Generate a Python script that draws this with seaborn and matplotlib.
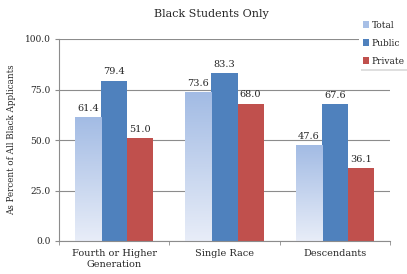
import matplotlib
matplotlib.use("Agg")
import matplotlib.pyplot as plt
import seaborn as sns
import pandas as pd
import numpy as np

categories = ["Fourth or Higher\nGeneration", "Single Race", "Descendants"]
series = ["Total", "Public", "Private"]
total_vals = [61.4, 73.6, 47.6]
public_vals = [79.4, 83.3, 67.6]
private_vals = [51.0, 68.0, 36.1]
yticks = [0.0, 25.0, 50.0, 75.0, 100.0]

rows = []
for s, vals in zip(series, [total_vals, public_vals, private_vals]):
    for c, v in zip(categories, vals):
        rows.append({"cat": c, "series": s, "value": v})
df = pd.DataFrame(rows)

sns.set_style("white")
plt.rcParams["font.family"] = ["DejaVu Serif"]

W, H = 407, 274
fig = plt.figure(figsize=(W / 100, H / 100), dpi=100)
ax = fig.add_axes([59 / W, 1 - 241 / H, (390 - 59) / W, (241 - 39) / H])

palette = {"Total": "#a7bfe6", "Public": "#4f81bd", "Private": "#c0504d"}
sns.barplot(data=df, x="cat", y="value", hue="series", hue_order=series,
            order=categories, palette=palette, width=0.71, ax=ax,
            saturation=1, edgecolor="none", linewidth=0)

ax.set_ylim(0, 100)
ax.set_xlim(-0.5, 2.5)
ax.set_yticks(yticks)
ax.set_yticklabels([f"{t:.1f}" for t in yticks], fontsize=6.5)
ax.yaxis.grid(True, color="#8c8c8c", linewidth=0.8)
ax.set_axisbelow(True)
ax.set_xlabel("")
ax.set_ylabel("As Percent of All Black Applicants", fontsize=6.3, labelpad=6)
ax.tick_params(axis="x", labelsize=7, length=0, pad=6)
ax.tick_params(axis="y", length=3, color="#8c8c8c", pad=3, left=True)
for s in ["top", "right"]:
    ax.spines[s].set_visible(False)
for s in ["left", "bottom"]:
    ax.spines[s].set_color("#8c8c8c")
    ax.spines[s].set_linewidth(0.8)

# category boundary ticks
ax.set_xticks([-0.5, 0.5, 1.5, 2.5], minor=True)
ax.tick_params(axis="x", which="minor", length=3, color="#8c8c8c", bottom=True, direction="out")

# gradient for Total bars
cmap = matplotlib.colors.LinearSegmentedColormap.from_list("g", ["#e8edf8", "#a2bbe4"])
grad = np.linspace(0, 1, 256).reshape(-1, 1)
for cont, s in zip(ax.containers, series):
    if s == "Total":
        for p in cont:
            x0, y0 = p.get_x(), p.get_y()
            w, h = p.get_width(), p.get_height()
            p.set_facecolor("none")
            im = ax.imshow(grad, extent=[x0, x0 + w, y0, y0 + h], origin="lower",
                           cmap=cmap, aspect="auto", zorder=p.get_zorder())
            im.set_clip_path(p)
    ax.bar_label(cont, fmt="%.1f", fontsize=7, padding=3)
ax.set_xlim(-0.5, 2.5)
ax.set_ylim(0, 100)

leg = ax.legend(loc="upper left", bbox_to_anchor=(359 / W, 1 - 17 / H),
                bbox_transform=fig.transFigure, fontsize=6.5, frameon=True,
                shadow={"ox": 1.5, "oy": -1.5, "alpha": 0.25, "color": "gray"},
                fancybox=False, handlelength=0.7, handleheight=0.7,
                handletextpad=0.3, labelspacing=1.0, borderpad=0.4,
                borderaxespad=0)
leg.get_frame().set_edgecolor("white")
leg.get_frame().set_linewidth(0)

fig.text(211 / W, 1 - 14 / H, "Black Students Only", ha="center", va="center", fontsize=8)

fig.savefig("out.png", dpi=100)
